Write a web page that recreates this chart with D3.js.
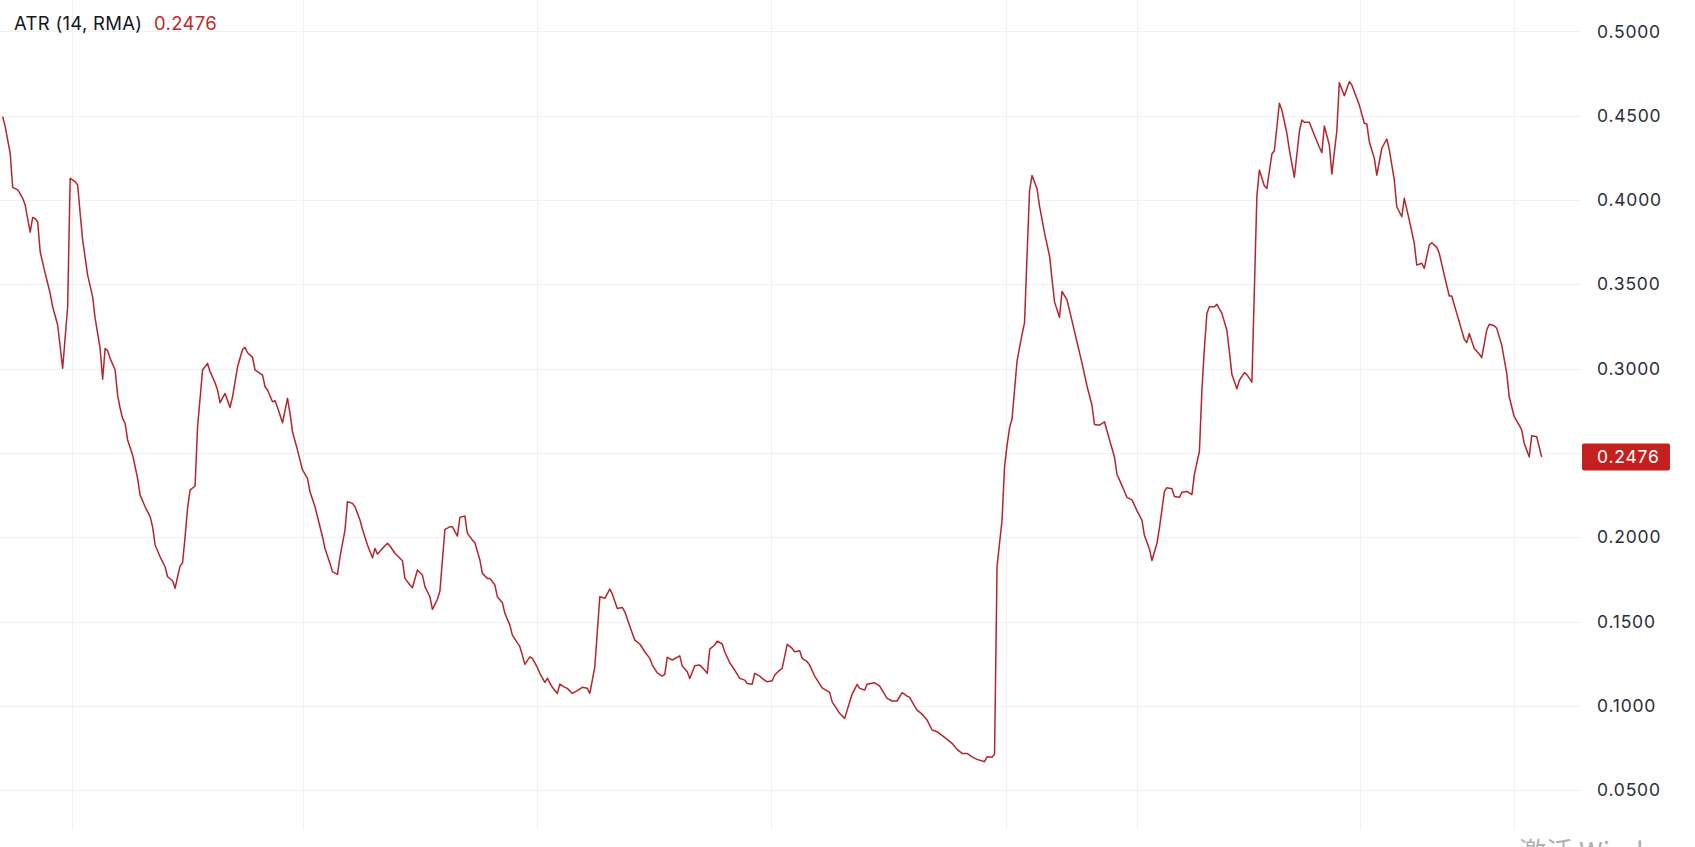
<!DOCTYPE html>
<html><head><meta charset="utf-8">
<script src="https://cdn.jsdelivr.net/npm/d3@7"></script>
<style>html,body{margin:0;padding:0;background:#fff;overflow:hidden}svg{display:block}</style>
</head><body>
<svg id="chart" width="1695" height="847"></svg>
<script>
// Bar numbers (position on the time axis) of the plotted points
const barIndex = [
  0,1,3,4,6,7,8,9,10,11,12,13,14,15,17,19,20,22,23,24,26,27,29,30,31,32,34,36,37,39,40,41,42,43,45,46,47,48,49,50,52,54,55,57,59,60,61,63,65,66,68,69,70,71,72,73,74,75,77,78,80,82,83,85,86,87,89,91,92,94,96,97,98,100,101,
  102,104,105,106,108,109,110,112,114,115,116,118,120,122,123,125,126,128,129,131,132,134,135,137,138,140,141,143,144,146,148,149,150,152,154,155,157,158,160,161,163,164,166,168,169,171,172,174,175,177,179,180,182,183,185,186,188,189,191,192,194,195,197,198,200,201,203,204,
  207,208,209,211,212,214,215,217,218,220,222,223,225,226,228,230,232,234,235,237,239,241,243,244,246,248,249,251,253,255,257,259,260,262,264,265,266,268,271,272,274,275,277,279,280,282,283,285,286,288,289,291,293,295,297,298,300,301,303,304,306,308,309,311,
  312,314,316,317,319,320,322,323,325,328,331,332,335,337,340,342,343,345,346,349,351,352,354,356,358,360,362,363,365,366,368,370,372,374,377,380,382,384,386,388,390,393,394,396,397,
  398,400,401,402,403,404,406,407,408,409,410,411,412,414,415,417,419,420,421,423,424,426,428,430,432,434,436,437,439,441,443,445,446,448,450,452,454,456,457,459,460,462,463,465,466,468,469,471,472,474,476,477,479,480,481,482,483,485,486,488,490,491,492,494,495,497,498,500,
  502,503,505,506,508,509,511,512,514,515,517,519,520,521,523,525,527,528,529,531,532,534,535,537,539,540,542,543,545,546,547,549,550,552,554,555,557,558,560,561,563,565,566,568,569,571,572,574,575,577,579,580,582,583,585,586,587,589,591,592,594,595,597,598,600,602,603,605,607,608,609,611,612,614,616
];
// ATR (14, RMA) values at those bars
const atrValue = [
  .4494,.4435,.4277,.4075,.406,.4036,.401,.397,.389,.381,.3897,.389,.387,.3693,.3565,.3447,.3367,.3259,.313,.3002,.3367,.4129,.4109,.4089,.3921,.3763,.3555,.3426,.3298,.312,.2937,.312,.3106,.3061,.2992,.2843,.2765,.2705,.2675,.2577,.2488,.2349,.225,.2181,.2122,.2062,.1954,.1884,.1825,.1766,.1742,.1697,.1766,.1829,.1849,.2003,.2171,.228,.2304,.2655,.2992,.3031,.2982,.2916,.2873,.2798,.2853,.277,.2833,.3011,.3114,.3126,.3094,.3067,.2992,
  .2982,.2962,.2893,.2873,.2804,.281,.277,.2679,.2824,.2735,.2626,.2517,.2399,.2349,.227,.2181,.2122,.2003,.1934,.1845,.1795,.178,.1884,.2043,.2211,.2201,.2181,.2102,.2047,.1954,.1878,.1934,.19,.1934,.1964,.1948,.1905,.189,.1861,.1756,.1717,.1701,.1806,.1776,.1707,.1647,.1572,.1632,.1681,.2047,.2062,.2062,.2007,.2118,.2126,.2023,.1983,.1967,.1865,.1786,.1756,.1756,.1717,.1647,.1612,.1549,.1479,.142,
  .1351,.1301,.1246,.1291,.1282,.1228,.1193,.114,.1163,.111,.1074,.1129,.111,.1104,.1074,.109,.111,.1104,.1074,.1232,.1647,.1638,.1693,.1663,.1578,.1584,.1558,.1473,.139,.1367,.1321,.1282,.1242,.1196,.1177,.1187,.1288,.1272,.1297,.1236,.1202,.1163,.1238,.1242,.1228,.1193,.1337,.1361,.1384,.1367,.1321,.1256,.1212,.1163,.1153,.1133,.1129,.1193,.1177,.1163,.1143,.1149,.1183,.1212,
  .1222,.1365,.1341,.1321,.1327,.1282,.1262,.1242,.1177,.1107,.108,.1024,.0956,.0926,.107,.1128,.1104,.1094,.1128,.1137,.1118,.1094,.1045,.1029,.1029,.1078,.1058,.105,.0999,.0975,.0951,.0916,.0857,.0847,.0813,.0778,.0742,.0718,.0718,.0698,.0683,.0669,.0698,.0695,.0714,
  .1829,.2101,.2419,.2545,.2647,.2703,.3044,.3124,.3203,.3272,.3669,.4055,.4146,.4067,.3964,.3805,.3669,.3532,.3396,.3305,.3458,.3408,.3283,.3158,.3033,.2897,.2783,.2669,.2665,.2685,.2578,.2476,.2374,.2306,.2237,.2222,.2158,.2101,.201,.1931,.1862,.1965,.2056,.2272,.2294,.2288,.2242,.2237,.2267,.2272,.2253,.2374,.251,.2874,.3124,.3328,.3367,.3367,.3381,.3328,.3226,.3101,.2965,.2881,.2931,.2976,.2965,.292,
  .4025,.4178,.4083,.4069,.4273,.4292,.4574,.4534,.4396,.4297,.4135,.4405,.4474,.4461,.4461,.4386,.4313,.4281,.4439,.4326,.4154,.4411,.4696,.4619,.4702,.4682,.4603,.4563,.4455,.4451,.4346,.4247,.4148,.4307,.4362,.4297,.4119,.396,.3901,.401,.3881,.3743,.3614,.3625,.3595,.3733,.3747,.3719,.3684,.3555,.3431,.3431,.3328,.3278,.3174,.3154,.3209,.312,.3087,.3065,.3229,.3263,.3254,.3239,.314,.2972,.2833,.2715,.2665,.2636,.2557,.2477,.2602,.2596,.2476
];
// Price-scale tick values
const yTickValues = [0.05, 0.10, 0.15, 0.20, 0.25, 0.30, 0.35, 0.40, 0.45, 0.50];
// Bars where the time-scale grid lines fall
const timeGridBars = [27.7, 120.2, 213.9, 307.6, 401.6, 454.1, 543.4, 605.0];
const indicatorName = "ATR (14, RMA)";
const watermarkText = "激活 Windows";

const lastValue = atrValue[atrValue.length - 1];
const fmt = d3.format(".4f");
const FONT = "Inter, 'Noto Sans', 'Liberation Sans', sans-serif";

const svg = d3.select("#chart");
const x = d3.scaleLinear().domain([0, d3.max(barIndex)]).range([2.7, 1541.7]);
const y = d3.scaleLinear().domain([0.05, 0.5]).range([790.2, 31.4]);

// horizontal grid
svg.append("g").selectAll("line").data(yTickValues).join("line")
  .attr("x1", 0).attr("x2", 1580)
  .attr("y1", d => Math.round(y(d)) + 0.5).attr("y2", d => Math.round(y(d)) + 0.5)
  .attr("stroke", "#f0f1f4").attr("stroke-width", 1);

// vertical grid
svg.append("g").selectAll("line").data(timeGridBars).join("line")
  .attr("x1", d => Math.round(x(d)) + 0.5).attr("x2", d => Math.round(x(d)) + 0.5)
  .attr("y1", 0).attr("y2", 830)
  .attr("stroke", "#f0f1f4").attr("stroke-width", 1);

// ATR line
const idx = d3.range(barIndex.length);
svg.append("path").datum(idx)
  .attr("fill", "none").attr("stroke", "#b3262b").attr("stroke-width", 1.5)
  .attr("stroke-linejoin", "round")
  .attr("d", d3.line().x(i => x(barIndex[i])).y(i => y(atrValue[i])));

// right price axis (labels hidden where the last-value tag sits)
const ly = y(lastValue);
const axis = d3.axisRight(y).tickValues(yTickValues).tickFormat(fmt).tickSize(0).tickPadding(0);
const ag = svg.append("g").attr("transform", "translate(1597,0)").call(axis);
ag.select(".domain").remove();
ag.selectAll(".tick").filter(d => Math.abs(y(d) - ly) < 24).remove();
ag.selectAll("text").attr("font-family", FONT).attr("font-size", 17.5).attr("fill", "#2a2e39")
  .attr("letter-spacing", "0.8px");

// last value label
svg.append("rect").attr("x", 1582).attr("y", ly - 13.5).attr("width", 88).attr("height", 27)
  .attr("rx", 2).attr("fill", "#c4201f");
svg.append("text").attr("x", 1597).attr("y", ly).attr("dy", "0.35em")
  .attr("font-family", FONT).attr("font-size", 17.5).attr("fill", "#ffffff").attr("letter-spacing", "0.8px")
  .text(fmt(lastValue));

// legend
const leg = svg.append("text").attr("x", 14).attr("y", 30)
  .attr("font-family", FONT).attr("font-size", 18.5).attr("letter-spacing", "0.3px");
leg.append("tspan").attr("fill", "#131722").text(indicatorName);
leg.append("tspan").attr("x", 154).attr("fill", "#c3282d").text(fmt(lastValue));

// OS watermark partially visible at bottom edge
svg.append("text").attr("x", 1519).attr("y", 862)
  .attr("font-family", "'Noto Sans CJK SC', sans-serif").attr("font-size", 27)
  .attr("fill", "#b0b0b0").text(watermarkText);
</script>
</body></html>
